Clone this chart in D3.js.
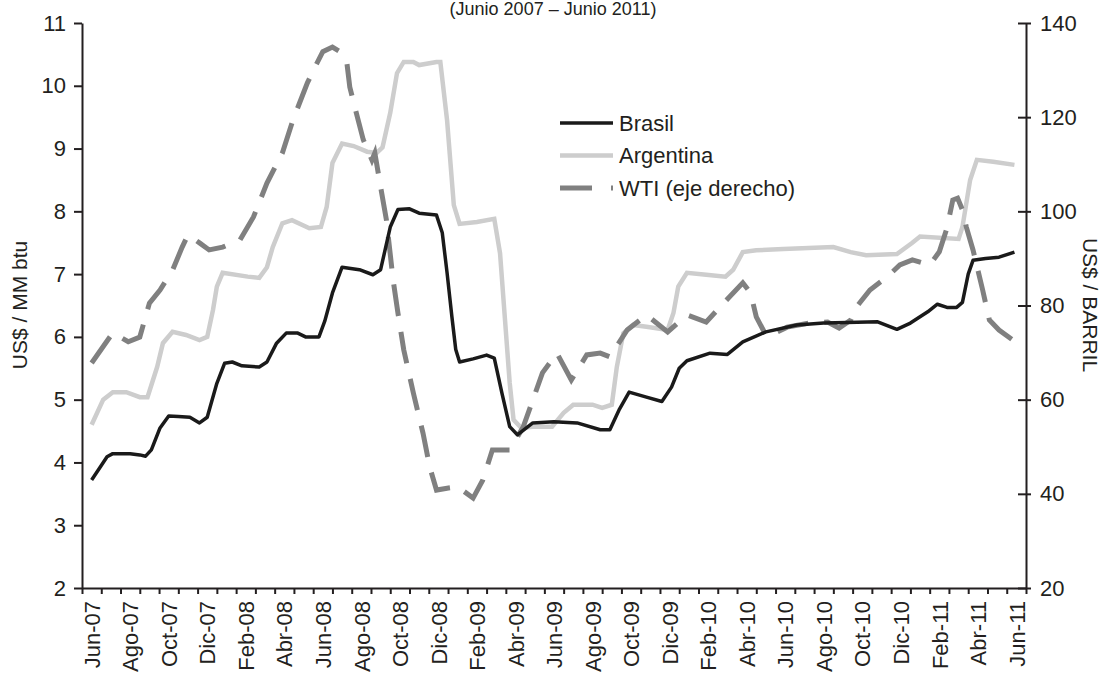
<!DOCTYPE html>
<html>
<head>
<meta charset="utf-8">
<script src="https://cdn.jsdelivr.net/npm/d3@7"></script>
<style>
  body { margin: 0; background: #fff; }
  svg text { font-family: "Liberation Sans", Arial, sans-serif; fill: #231f20; }
  .axis path, .axis line { stroke: #231f20; stroke-width: 2; }
</style>
</head>
<body>
<div id="chart"></div>
<script>
// x values are months since the start of Jun-07 (category Jun-07 = 0..1)
const xLabels = ["Jun-07","Ago-07","Oct-07","Dic-07","Feb-08","Abr-08","Jun-08","Ago-08",
  "Oct-08","Dic-08","Feb-09","Abr-09","Jun-09","Ago-09","Oct-09","Dic-09","Feb-10",
  "Abr-10","Jun-10","Ago-10","Oct-10","Dic-10","Feb-11","Abr-11","Jun-11"];
const leftTicks = [2,3,4,5,6,7,8,9,10,11];
const rightTicks = [20,40,60,80,100,120,140];

// US$ / MM btu
const brasil = [[0.5,3.72],[1.0,3.95],[1.3,4.09],[1.6,4.14],[2.5,4.14],[3.0,4.12],[3.3,4.1],[3.6,4.2],
  [4.05,4.55],[4.5,4.74],[5.0,4.73],[5.6,4.72],[6.1,4.63],[6.5,4.72],[7.0,5.26],[7.4,5.58],[7.8,5.6],
  [8.3,5.54],[9.2,5.52],[9.6,5.6],[10.1,5.9],[10.6,6.06],[11.2,6.06],[11.6,6.0],[12.3,6.0],[12.6,6.25],
  [13.0,6.7],[13.5,7.11],[14.4,7.07],[15.1,6.99],[15.5,7.07],[16.0,7.75],[16.4,8.03],[17.0,8.04],
  [17.5,7.97],[18.4,7.94],[18.7,7.66],[18.95,7.02],[19.2,6.32],[19.4,5.8],[19.6,5.6],[20.3,5.65],
  [21.0,5.71],[21.4,5.66],[21.8,5.1],[22.2,4.57],[22.6,4.44],[23.4,4.63],[24.5,4.65],[25.7,4.63],
  [26.9,4.52],[27.4,4.52],[27.9,4.85],[28.4,5.12],[29.3,5.04],[30.1,4.97],[30.6,5.2],[31.0,5.5],
  [31.4,5.62],[32.6,5.74],[33.5,5.72],[34.3,5.92],[35.5,6.08],[37.1,6.19],[38.5,6.22],[39.7,6.23],
  [41.3,6.24],[42.3,6.12],[43.0,6.22],[43.9,6.4],[44.4,6.52],[44.9,6.47],[45.4,6.47],[45.7,6.55],
  [46.0,7.0],[46.25,7.22],[46.9,7.25],[47.6,7.27],[48.4,7.35]];

const argentina = [[0.5,4.6],[1.1,5.0],[1.6,5.12],[2.3,5.12],[3.0,5.04],[3.4,5.04],[3.9,5.52],[4.2,5.9],
  [4.7,6.08],[5.4,6.03],[6.1,5.95],[6.5,6.0],[6.8,6.43],[7.0,6.8],[7.3,7.02],[8.6,6.96],[9.2,6.94],
  [9.6,7.11],[9.9,7.43],[10.4,7.81],[10.9,7.86],[11.8,7.73],[12.4,7.75],[12.7,8.07],[13.0,8.77],
  [13.5,9.08],[14.1,9.04],[14.8,8.95],[15.3,8.93],[15.6,9.02],[16.0,9.57],[16.35,10.2],[16.7,10.38],
  [17.2,10.38],[17.5,10.33],[18.4,10.38],[18.6,10.38],[18.95,9.45],[19.3,8.1],[19.6,7.8],[20.5,7.83],
  [21.4,7.88],[21.7,7.33],[21.95,6.3],[22.2,5.27],[22.4,4.68],[22.8,4.55],[23.4,4.57],[24.4,4.57],
  [25.0,4.79],[25.5,4.92],[26.5,4.92],[27.0,4.87],[27.5,4.92],[27.76,5.52],[28.1,6.06],[28.6,6.19],
  [29.3,6.16],[30.4,6.11],[30.7,6.38],[30.95,6.8],[31.4,7.02],[32.4,6.99],[33.4,6.96],[33.8,7.07],
  [34.3,7.35],[35.0,7.38],[36.4,7.4],[39.0,7.43],[39.9,7.35],[40.7,7.3],[42.3,7.32],[43.1,7.5],
  [43.5,7.6],[45.5,7.56],[45.7,7.75],[46.1,8.5],[46.45,8.82],[47.3,8.79],[48.4,8.74]];

// US$ / barril (right axis)
const wti = [[0.5,67.8],[1.6,74.2],[2.4,72.3],[3.0,73.3],[3.5,80.5],[4.05,83.3],[4.7,87.5],[5.2,92.4],
  [5.5,95.0],[6.1,93.3],[6.6,91.8],[7.3,92.4],[8.2,93.9],[8.9,98.8],[9.6,106],[10.4,112.4],
  [10.95,119.4],[11.7,127.3],[12.2,131.5],[12.5,133.9],[13.0,134.9],[13.4,133.9],[13.75,131.5],
  [13.9,126.4],[14.2,121.5],[14.6,115.2],[15.05,110.9],[15.2,112.4],[15.5,105.2],[15.8,98.2],
  [16.15,85.4],[16.4,78.4],[16.7,70.6],[17.2,61.4],[17.7,52.9],[18.05,45.7],[18.4,40.8],[18.95,41.2],
  [19.5,41.5],[20.3,39.1],[20.8,42.9],[21.3,49.3],[22.2,49.3],[22.9,54.2],[23.4,59.9],[23.9,65.7],
  [24.65,69.9],[25.4,64.2],[26.2,69.5],[26.9,69.9],[27.4,69.1],[28.3,74.8],[29.3,78.0],[30.4,74.4],
  [31.4,78.0],[32.4,76.5],[33.3,80.5],[34.3,84.8],[34.7,82.7],[35.0,77.6],[35.55,73.3],[36.6,75.4],
  [37.8,76.3],[38.7,76.5],[39.3,75.2],[39.9,76.9],[40.2,79.7],[40.9,83.3],[41.8,86.1],[42.45,88.6],
  [43.1,89.7],[44.0,88.6],[44.5,91.4],[44.9,96.5],[45.2,102.4],[45.45,102.8],[45.7,100.3],
  [45.9,96.7],[46.25,91.8],[46.75,83.3],[47.1,76.9],[47.6,74.8],[48.3,72.7]];

const W = 1105, H = 678;
const svg = d3.select('#chart').append('svg')
  .attr('width', W).attr('height', H);

const x = d3.scaleLinear().domain([0, 49]).range([82, 1026]);
const yL = d3.scaleLinear().domain([2, 11]).range([588, 23]);
const yR = d3.scaleLinear().domain([20, 140]).range([588, 23]);

// title
svg.append('text')
  .attr('x', 553).attr('y', 15)
  .attr('text-anchor', 'middle')
  .style('font-size', '18px')
  .text('(Junio 2007 \u2013 Junio 2011)');

// lines
const lineL = d3.line().x(d => x(d[0])).y(d => yL(d[1]));
const lineR = d3.line().x(d => x(d[0])).y(d => yR(d[1]));

svg.append('path').datum(argentina)
  .attr('d', lineL).attr('fill', 'none')
  .attr('stroke', '#cdcdcd').attr('stroke-width', 4.5);

svg.append('path').datum(wti)
  .attr('d', lineR).attr('fill', 'none')
  .attr('stroke', '#808080').attr('stroke-width', 5)
  .attr('stroke-dasharray', '32,16');

svg.append('path').datum(brasil)
  .attr('d', lineL).attr('fill', 'none')
  .attr('stroke', '#1a1a1a').attr('stroke-width', 3.5)
  .attr('stroke-linejoin', 'round');

// axes
svg.append('g').attr('class', 'axis')
  .attr('transform', 'translate(0,588)')
  .call(d3.axisBottom(x).tickValues(d3.range(0, 50)).tickFormat('').tickSize(6).tickSizeOuter(0));

const gxl = svg.append('g')
  .attr('transform', 'translate(0,588)')
  .call(d3.axisBottom(x).tickValues(xLabels.map((d, i) => i * 2 + 0.5))
    .tickFormat((d, i) => xLabels[i]).tickSize(0));
gxl.select('.domain').remove();
gxl.selectAll('text')
  .style('font-size', '22px')
  .attr('transform', 'rotate(-90)')
  .attr('x', -13).attr('y', 0).attr('dy', '0.35em')
  .attr('text-anchor', 'end');

const gyl = svg.append('g').attr('class', 'axis')
  .attr('transform', 'translate(82,0)')
  .call(d3.axisLeft(yL).tickValues(leftTicks).tickSize(8).tickSizeOuter(0).tickPadding(8));
gyl.selectAll('text').style('font-size', '22px');

const gyr = svg.append('g').attr('class', 'axis')
  .attr('transform', 'translate(1026,0)')
  .call(d3.axisRight(yR).tickValues(rightTicks).tickSize(5).tickSizeOuter(0).tickPadding(9));
gyr.selectAll('.tick line').attr('x1', -8);
gyr.selectAll('text').style('font-size', '22px');

// axis titles
svg.append('text')
  .attr('transform', 'translate(27,305) rotate(-90)')
  .attr('text-anchor', 'middle')
  .style('font-size', '21px')
  .text('US$ / MM btu');

svg.append('text')
  .attr('transform', 'translate(1083,305) rotate(90)')
  .attr('text-anchor', 'middle')
  .style('font-size', '21px')
  .text('US$ / BARRIL');

// legend
const legend = [
  { name: 'Brasil', color: '#1a1a1a', width: 3.5, dash: null },
  { name: 'Argentina', color: '#cdcdcd', width: 4.5, dash: null },
  { name: 'WTI (eje derecho)', color: '#808080', width: 5, dash: '32,19' }
];
const lg = svg.append('g').attr('transform', 'translate(560,123)');
legend.forEach((d, i) => {
  const g = lg.append('g').attr('transform', `translate(0,${i * 32.5})`);
  g.append('line').attr('x1', 0).attr('x2', 53).attr('y1', 0).attr('y2', 0)
    .attr('stroke', d.color).attr('stroke-width', d.width)
    .attr('stroke-dasharray', d.dash);
  g.append('text').attr('x', 59).attr('y', 0).attr('dy', '0.35em')
    .style('font-size', '22px').text(d.name);
});
</script>
</body>
</html>
